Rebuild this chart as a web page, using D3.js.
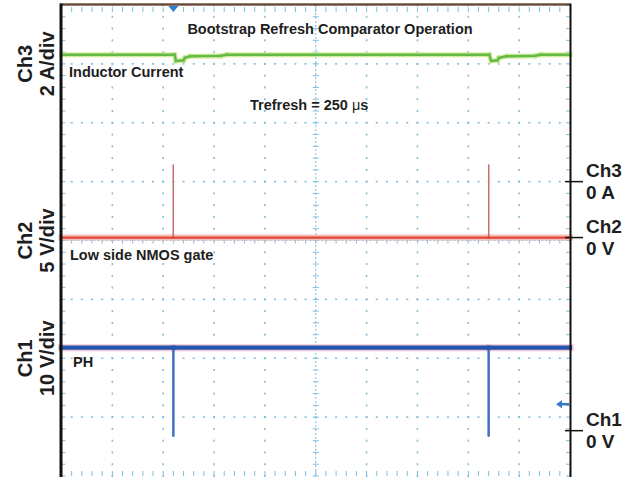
<!DOCTYPE html>
<html><head><meta charset="utf-8">
<script src="https://cdn.jsdelivr.net/npm/d3@7"></script>
<style>
html,body{margin:0;padding:0;background:#fff;}
svg{display:block;font-family:"Liberation Sans",Arial,sans-serif;}
</style></head>
<body>
<svg id="c" width="628" height="477"></svg>
<script>
// ---- data (time in µs, 40 µs/div; values in channel units) ----
const timeRange = [-200, 200];
const divRange = [-4, 4];
const xDivs = d3.range(-5, 6);          // major vertical grid positions (div)
const yDivs = d3.range(-4, 5);          // major horizontal grid positions (div)

// Ch3: inductor current (A), 2 A/div, 0 A reference at +1 div
const ch3Time    = [-200, -111, -110, -104, -103, -99, -75, -70, 136.5, 138, 143, 144, 150, 172, 177, 200];
const ch3Current = [4.31, 4.31, 4.10, 4.12, 4.20, 4.26, 4.27, 4.31, 4.31, 4.10, 4.12, 4.20, 4.26, 4.27, 4.31, 4.31];
// Ch2: low side NMOS gate (V), 5 V/div
const ch2Time    = [-200, -112, -112, -112, 136, 136, 136, 200];
const ch2Voltage = [0, 0, 6.2, 0, 0, 6.2, 0, 0];
// Ch1: PH (V), 10 V/div
const ch1Time    = [-200, -112, -112, -112, 136, 136, 136, 200];
const ch1Voltage = [14.1, 14.1, -1.0, 14.1, 14.1, -1.0, 14.1, 14.1];

const channels = [
  {name:"Ch3", unit:"A", perDiv:2,  offset:1.0,   t:ch3Time, v:ch3Current, left:["Ch3","2 A/div"],  leftCenter:3.0,  right:["Ch3","0 A"]},
  {name:"Ch2", unit:"V", perDiv:5,  offset:0.05,  t:ch2Time, v:ch2Voltage, left:["Ch2","5 V/div"],  leftCenter:0.0,  right:["Ch2","0 V"]},
  {name:"Ch1", unit:"V", perDiv:10, offset:-3.23, t:ch1Time, v:ch1Voltage, left:["Ch1","10 V/div"], leftCenter:-2.0, right:["Ch1","0 V"]}
];
const triggerTime = -112;
const triggerLevelDiv = -2.78;

// ---- scales ----
const L = 61.5, R = 570, T = 5, B = 476;
const x = d3.scaleLinear().domain(timeRange).range([L, R]);
const y = d3.scaleLinear().domain(divRange).range([B, T]);
const xd = d3.scaleLinear().domain([-5, 5]).range([L, R]);

const svg = d3.select("#c");
const grid = svg.append("g");
const gridCol = "#7dbde0";

// minor dots along vertical grid lines
xDivs.slice(1, -1).forEach(d => {
  if (d === 0) return;
  d3.range(-4, 4.01, 0.2).forEach(m => {
    grid.append("rect").attr("x", xd(d) - 0.8).attr("y", y(m) - 1)
      .attr("width", 1.6).attr("height", 2).attr("fill", gridCol);
  });
});
// minor dots along horizontal grid lines
yDivs.slice(1, -1).forEach(d => {
  if (d === 0) return;
  d3.range(-5, 5.01, 0.2).forEach(m => {
    grid.append("rect").attr("x", xd(m) - 1).attr("y", y(d) - 0.8)
      .attr("width", 2).attr("height", 1.6).attr("fill", gridCol);
  });
});
// center axes with ticks
grid.append("line").attr("x1", xd(0)).attr("x2", xd(0)).attr("y1", T).attr("y2", B)
  .attr("stroke", gridCol).attr("stroke-width", 1).attr("stroke-dasharray", "2,2");
grid.append("line").attr("x1", L).attr("x2", R).attr("y1", y(0)).attr("y2", y(0))
  .attr("stroke", gridCol).attr("stroke-width", 1).attr("stroke-dasharray", "2,2");
d3.range(-4, 4.01, 0.2).forEach(m => {
  grid.append("line").attr("x1", xd(0) - 3).attr("x2", xd(0) + 3).attr("y1", y(m)).attr("y2", y(m))
    .attr("stroke", gridCol).attr("stroke-width", 1);
  grid.append("line").attr("x1", L).attr("x2", L + 4).attr("y1", y(m)).attr("y2", y(m))
    .attr("stroke", gridCol).attr("stroke-width", 1);
  grid.append("line").attr("x1", R - 4).attr("x2", R).attr("y1", y(m)).attr("y2", y(m))
    .attr("stroke", gridCol).attr("stroke-width", 1);
});
d3.range(-5, 5.01, 0.2).forEach(m => {
  grid.append("line").attr("x1", xd(m)).attr("x2", xd(m)).attr("y1", y(0) - 3).attr("y2", y(0) + 3)
    .attr("stroke", gridCol).attr("stroke-width", 1);
  grid.append("line").attr("x1", xd(m)).attr("x2", xd(m)).attr("y1", T + 2).attr("y2", T + 7)
    .attr("stroke", gridCol).attr("stroke-width", 1);
  grid.append("line").attr("x1", xd(m)).attr("x2", xd(m)).attr("y1", B - 5).attr("y2", B)
    .attr("stroke", gridCol).attr("stroke-width", 1);
});

// ---- traces ----
const styles = {
  Ch3: {halo:"#d2eb9a", haloW:5, core:"#62bb46", coreW:2.4, spike:"#62bb46", spikeW:2},
  Ch2: {halo:"#f6c0b6", haloW:6, core:"#e0473a", coreW:2.2, spike:"#c5706a", spikeW:1.3},
  Ch1: {halo:"#f1c6d6", haloW:7, core:"#2556ad", coreW:4.2, spike:"#3d6fc2", spikeW:2}
};
channels.forEach(ch => {
  const pts = ch.t.map((t, i) => [t, ch.v[i]]);
  const line = d3.line().x(d => x(d[0])).y(d => y(ch.offset + d[1] / ch.perDiv));
  const st = styles[ch.name];
  const flat = [], spikes = [];
  for (let i = 0; i < pts.length - 1; i++) {
    const seg = [pts[i], pts[i + 1]];
    if (pts[i][0] === pts[i + 1][0] && ch.name !== "Ch3") spikes.push(seg); else flat.push(seg);
  }
  flat.forEach(s => svg.append("path").attr("d", line(s)).attr("fill", "none")
    .attr("stroke", st.halo).attr("stroke-width", st.haloW).attr("stroke-linecap", "square"));
  spikes.forEach(s => svg.append("path").attr("d", line(s)).attr("fill", "none")
    .attr("stroke", st.spike).attr("stroke-width", st.spikeW));
  flat.forEach(s => svg.append("path").attr("d", line(s)).attr("fill", "none")
    .attr("stroke", st.core).attr("stroke-width", st.coreW).attr("stroke-linecap", "square"));
});

// ---- borders ----
svg.append("line").attr("x1", L - 1).attr("x2", R).attr("y1", T - 0.5).attr("y2", T - 0.5)
  .attr("stroke", "#6b4d3e").attr("stroke-width", 2.5);
svg.append("line").attr("x1", L - 0.5).attr("x2", L - 0.5).attr("y1", T - 1.5).attr("y2", 477)
  .attr("stroke", "#111").attr("stroke-width", 3);
svg.append("line").attr("x1", R + 0.5).attr("x2", R + 0.5).attr("y1", T - 1.5).attr("y2", 477)
  .attr("stroke", "#111").attr("stroke-width", 2);

// trigger marker (top) and trigger level arrow (right)
const tx = x(triggerTime);
svg.append("path").attr("d", `M${tx - 5},${T + 1} L${tx + 5},${T + 1} L${tx},${T + 7} Z`).attr("fill", "#2a80d0");
const ty = y(triggerLevelDiv);
svg.append("path").attr("d", `M${R - 1},${ty} L${R - 9},${ty}`).attr("stroke", "#3a78c8").attr("stroke-width", 2.5);
svg.append("path").attr("d", `M${R - 14},${ty} L${R - 8},${ty - 4} L${R - 8},${ty + 4} Z`).attr("fill", "#3a78c8");

// ---- text ----
const txt = (xx, yy, s, size) => svg.append("text").attr("x", xx).attr("y", yy)
  .attr("font-size", size).attr("font-weight", "bold").attr("fill", "#1e1e1e").text(s);
txt(330, 34, "Bootstrap Refresh Comparator Operation", 14.5).attr("text-anchor", "middle");
txt(69, 77, "Inductor Current", 14.5);
const tr = svg.append("text").attr("x", 250).attr("y", 110).attr("font-size", 14.5)
  .attr("font-weight", "bold").attr("fill", "#1e1e1e");
tr.append("tspan").text("Trefresh = 250 ");
tr.append("tspan").attr("font-weight", "normal").text("μ");
tr.append("tspan").text("s");
txt(70, 260, "Low side NMOS gate", 14.5);
txt(73, 367, "PH", 14.5);

channels.forEach(ch => {
  const cy = y(ch.leftCenter);
  const g = svg.append("g").attr("transform", `translate(0,${cy}) rotate(-90)`);
  g.append("text").attr("x", 0).attr("y", 32).attr("text-anchor", "middle")
    .attr("font-size", 20).attr("font-weight", "bold").attr("fill", "#1e1e1e").text(ch.left[0]);
  g.append("text").attr("x", 0).attr("y", 54).attr("text-anchor", "middle")
    .attr("font-size", 20).attr("font-weight", "bold").attr("fill", "#1e1e1e").text(ch.left[1]);
  const zy = y(ch.offset);
  svg.append("line").attr("x1", R - 5).attr("x2", R + 13).attr("y1", zy).attr("y2", zy)
    .attr("stroke", "#111").attr("stroke-width", 1.5);
  txt(586, zy - 5, ch.right[0], 19);
  txt(586, zy + 17, ch.right[1], 19);
});
</script>
</body></html>
